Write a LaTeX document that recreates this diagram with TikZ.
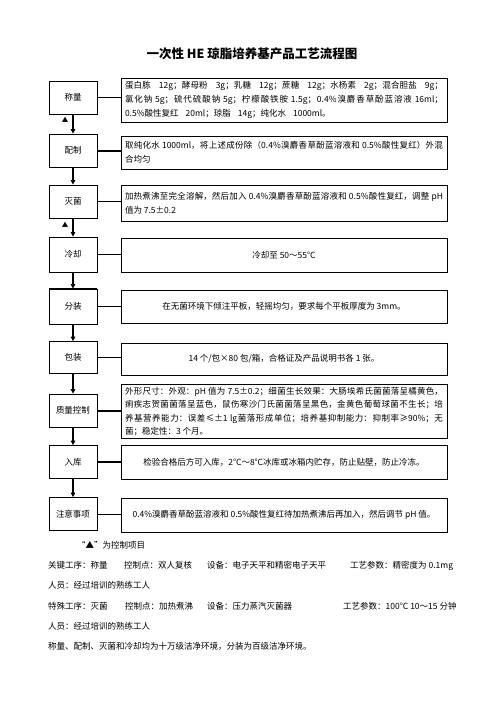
\documentclass[tikz,border=0pt]{standalone}
\usepackage{fontspec}
\setmainfont{Noto Sans CJK SC}
\XeTeXlinebreaklocale "zh"
\XeTeXlinebreakskip=0pt plus 1pt minus 0.25pt
\usetikzlibrary{arrows.meta}
\newcommand\diagbodyfont{\fontsize{8.5}{14}\selectfont}
\newcommand\wgap{\hskip 6pt plus 12pt\relax}
\tikzset{
 lbox/.style={draw, line width=0.8pt, minimum width=48pt, minimum height=33pt, inner sep=0pt, font=\diagbodyfont},
 rbox/.style={draw, line width=0.8pt, inner xsep=4pt, inner ysep=2pt, text width=318pt, font=\diagbodyfont},
 jbox/.style={rbox, align=justify},
 cbox/.style={rbox, align=flush center},
 flow/.style={line width=1.6pt, -{Triangle[length=4.5pt,width=4.5pt]}},
 thinlink/.style={line width=0.8pt},
 thicklink/.style={line width=2pt},
 note/.style={anchor=base west, inner sep=0pt, font=\diagbodyfont},
 ctrlmark/.style={inner sep=0pt, font=\fontsize{6.5}{7}\selectfont},
}
\begin{document}
\begin{tikzpicture}[x=1pt,y=1pt]
\useasboundingbox (0,0) rectangle (496,-702);
\node[font={\fontsize{12.5}{15}\selectfont\bfseries}] (title) at (252,-54) {一次性 HE 琼脂培养基产品工艺流程图};

% left column
\node[lbox, minimum height=33pt] (L1) at (73,-97.5) {称量};
\node[lbox] (L2) at (73,-150.5) {配制};
\node[lbox] (L3) at (73,-201.5) {灭菌};
\node[lbox, minimum height=35pt] (L4) at (73,-254.5) {冷却};
\node[lbox, minimum height=35pt] (L5) at (73,-306.5) {分装};
\node[lbox, minimum height=32pt] (L6) at (73,-357.5) {包装};
\node[lbox] (L7) at (73,-410.5) {质量控制};
\node[lbox, minimum height=33pt] (L8) at (73,-462) {入库};
\node[lbox, minimum height=33pt] (L9) at (73,-514) {注意事项};

% right column
\node[jbox, minimum height=44pt] (R1) at (284,-100) {蛋白胨\wgap 12g；酵母粉\wgap 3g；乳糖\wgap 12g；蔗糖\wgap 12g；水杨素\wgap 2g；混合胆盐\wgap 9g；\linebreak 氯化钠 5g；硫代硫酸钠 5g；柠檬酸铁胺 1.5g；0.4\%溴麝香草酚蓝溶液 16ml；\linebreak 0.5\%酸性复红\hspace{7pt}20ml；琼脂\hspace{7pt}14g；纯化水\hspace{7pt}1000ml。};
\node[jbox, minimum height=33pt] (R2) at (284,-152.5) {取纯化水 1000ml，将上述成份除（0.4\%溴麝香草酚蓝溶液和 0.5\%酸性复红）外混\linebreak 合均匀};
\node[jbox, minimum height=36pt] (R3) at (284,-203) {加热煮沸至完全溶解，然后加入 0.4\%溴麝香草酚蓝溶液和 0.5\%酸性复红，调整 pH\linebreak 值为 7.5±0.2};
\node[cbox, minimum height=34pt] (R4) at (284,-255) {冷却至 50～55℃};
\node[cbox, minimum height=33pt] (R5) at (284,-306.5) {在无菌环境下倾注平板，轻摇均匀，要求每个平板厚度为 3mm。};
\node[cbox, minimum height=32pt] (R6) at (284,-359) {14 个/包×80 包/箱，合格证及产品说明书各 1 张。};
\node[jbox, minimum height=54pt, font={\fontsize{8.5}{13.2}\selectfont}] (R7) at (284,-411.5) {外形尺寸：外观：pH 值为 7.5±0.2；细菌生长效果：大肠埃希氏菌菌落呈橘黄色，\linebreak 痢疾志贺菌菌落呈蓝色，鼠伤寒沙门氏菌菌落呈黑色，金黄色葡萄球菌不生长；培\linebreak 养基营养能力：误差≤±1 lg菌落形成单位；培养基抑制能力：抑制率≥90\%；无\linebreak 菌；稳定性：3 个月。};
\node[cbox, minimum height=34pt] (R8) at (284,-462) {检验合格后方可入库，2℃～8℃冰库或冰箱内贮存，防止贴壁，防止冷冻。};
\node[cbox, minimum height=34pt] (R9) at (284,-515) {0.4\%溴麝香草酚蓝溶液和 0.5\%酸性复红待加热煮沸后再加入，然后调节 pH 值。};

% vertical flow
\draw[flow] (L1) -- (L2);
\draw[flow] (L2) -- (L3);
\draw[flow] (L3) -- (L4);
\draw[flow] (L4) -- (L5);
\draw[flow] (L5) -- (L6);
\draw[flow] (L6) -- (L7);
\draw[flow] (L7) -- (L8);
\draw[flow] (L8) -- (L9);
\draw[line width=1.8pt] (L5.north west) -- (L5.north east);

% horizontal links
\draw[thinlink]  (L1.east) -- (L1.east -| R1.west);
\draw[thicklink] (L2.east) -- (L2.east -| R2.west);
\draw[thinlink]  (L3.east) -- (L3.east -| R3.west);
\draw[thinlink]  (L4.east) -- (L4.east -| R4.west);
\draw[thinlink]  (L5.east) -- (L5.east -| R5.west);
\draw[thinlink]  (L6.east) -- (L6.east -| R6.west);
\draw[thicklink] (L7.east) -- (L7.east -| R7.west);
\draw[thicklink] (L8.east) -- (L8.east -| R8.west);
\draw[thinlink]  (L9.east) -- (L9.east -| R9.west);

% control marks
\node[ctrlmark] (m1) at (65,-120) {▲};
\node[ctrlmark] (m2) at (65,-225) {▲};

% notes
\node[note] (n0) at (77,-548) {“▲”为控制项目};
\node[note] (n1a) at (48,-568) {关键工序：称量};
\node[note] (n1b) at (124,-568) {控制点：双人复核};
\node[note] (n1c) at (207,-568) {设备：电子天平和精密电子天平};
\node[note] (n1d) at (350,-568) {工艺参数：精密度为 0.1mg};
\node[note] (n2) at (48,-588) {人员：经过培训的熟练工人};
\node[note] (n3a) at (48,-609) {特殊工序：灭菌};
\node[note] (n3b) at (125,-609) {控制点：加热煮沸};
\node[note] (n3c) at (207,-609) {设备：压力蒸汽灭菌器};
\node[note] (n3d) at (343,-609) {工艺参数：100℃ 10～15 分钟};
\node[note] (n4) at (48,-629) {人员：经过培训的熟练工人};
\node[note] (n5) at (48,-649) {称量、配制、灭菌和冷却均为十万级洁净环境，分装为百级洁净环境。};
\end{tikzpicture}
\end{document}
